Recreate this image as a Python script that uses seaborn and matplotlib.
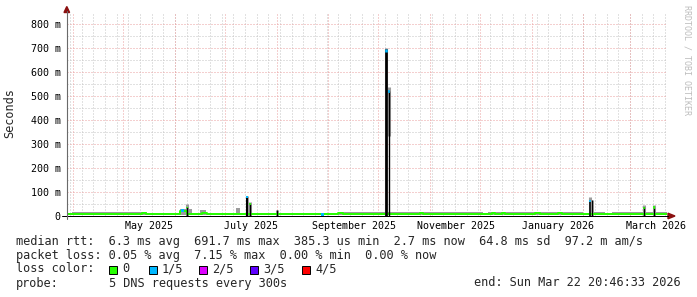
import matplotlib
matplotlib.use("Agg")
import matplotlib.pyplot as plt
import matplotlib.dates as mdates
from matplotlib.lines import Line2D
from matplotlib.patches import Rectangle, Polygon
import numpy as np
import pandas as pd
import seaborn as sns

# ---------------- data ----------------
START = pd.Timestamp("2025-03-27 20:46:33")
END = pd.Timestamp("2026-03-22 20:46:33")

# smoke band top (ms): value holds from each day offset until the next one
smoke_day = [0, 3, 48, 67.8, 75, 80, 83.4, 101.4, 103.8, 139.8, 162.6, 249.6, 252.6, 309.6, 313.2, 322.8, 327]
smoke_ms = [11, 15, 12, 25, 12, 21, 12, 30, 12, 11, 14, 11, 14, 11, 14, 10, 14]

# median rtt (ms), step values
median_day = [0, 45, 47.4, 67.8, 72, 81, 84, 162.6, 165.6, 211.8, 213.6, 255, 257, 261, 263, 281, 284, 294.6, 297]
median_ms = [4.5, 9, 4.5, 20, 4.5, 9, 4.5, 9, 4.5, 9, 4.5, 9, 4.5, 9, 4.5, 9, 4.5, 9, 4.5]

# spikes
spike_day = [72.0, 108.0, 109.8, 126.0, 191.7, 193.4, 314.0, 315.0, 346.6, 352.6]
spike_top_ms = [35, 73, 50, 22, 692, 520, 57, 65, 34, 33]
spike_smoke_lo = [0, 0, 0, 0, 0, 330, 0, 0, 0, 0]
spike_smoke_hi = [46, 83, 55, 22, 700, 535, 77, 65, 43, 43]
spike_cap_lo = [30, 73, 44, 20, 680, 512, 55, 62, 28, 26]
spike_cap_hi = [36, 82, 52, 22, 692, 525, 66, 65, 37, 38]
spike_loss = [0, 1, 0, -1, 1, 1, 1, -1, 0, 0]

# isolated loss dots on the median
dot_day = [69.6, 153.6]
dot_ms = [20, 4.5]
dot_loss = [1, 1]

ytick_vals = [0, 100, 200, 300, 400, 500, 600, 700, 800]
ytick_labels = ["0", "100 m", "200 m", "300 m", "400 m", "500 m", "600 m", "700 m", "800 m"]
month_label_starts = ["2025-05-01", "2025-07-01", "2025-09-01", "2025-11-01", "2026-01-01", "2026-03-01"]
month_labels = ["May 2025", "July 2025", "September 2025", "November 2025", "January 2026", "March 2026"]

loss_labels = ["0", "1/5", "2/5", "3/5", "4/5"]
loss_colors = ["#26ff00", "#00b8ff", "#dd00ff", "#5e00ff", "#ff0000"]

rtt_stats = ["6.3 ms avg", "691.7 ms max", "385.3 us min", "2.7 ms now", "64.8 ms sd", "97.2 m am/s"]
loss_stats = ["0.05 % avg", "7.15 % max", "0.00 % min", "0.00 % now"]
probe_text = "5 DNS requests every 300s"
end_text = "end: Sun Mar 22 20:46:33 2026"
watermark = "RRDTOOL / TOBI OETIKER"
y_title = "Seconds"

# ---------------- drawing ----------------
sns.set_theme(style="white")
MONO = "DejaVu Sans Mono"
plt.rcParams["font.family"] = [MONO, "DejaVu Sans"]

W, H = 697, 297
def fx(x):
    return x / W
def fy(y):
    return 1 - y / H

def to_num(days):
    return mdates.date2num(START + pd.to_timedelta(np.asarray(days, dtype=float), unit="D"))

fig = plt.figure(figsize=(W / 100, H / 100), dpi=100)
fig.patch.set_facecolor("white")
X0, X1, Y0, Y1 = 66.5, 666.5, 215.5, 13.0
ax = fig.add_axes([fx(X0), fy(Y0), (X1 - X0) / W, (Y0 - Y1) / H])
ax.set_facecolor("white")
xmin, xmax = mdates.date2num(START), mdates.date2num(END)
ax.set_xlim(xmin, xmax)
ax.set_ylim(0, (Y0 - Y1) / 0.24)
for s in ax.spines.values():
    s.set_visible(False)

# grid
dash = (0, (1, 2))
for d in pd.date_range("2025-03-23", END, freq="W-SUN"):
    v = mdates.date2num(d)
    if xmin < v < xmax:
        ax.axvline(v, color="#c4c4c4", lw=0.72, ls=dash, zorder=0)
for v in range(50, 850, 100):
    ax.axhline(v, color="#c4c4c4", lw=0.72, ls=dash, zorder=0)
for d in pd.date_range("2025-04-01", END, freq="MS"):
    ax.axvline(mdates.date2num(d), color="#eba0a0", lw=0.72, ls=dash, zorder=0.5)
for v in ytick_vals[1:]:
    ax.axhline(v, color="#eba0a0", lw=0.72, ls=dash, zorder=0.5)

# smoke
sx = np.append(to_num(smoke_day), xmax)
sy = np.append(smoke_ms, smoke_ms[-1])
ax.fill_between(sx, 0, sy, step="post", color="#9c9c9c", lw=0, zorder=1)
sp = to_num(spike_day)
ax.vlines(sp, spike_smoke_lo, spike_smoke_hi, colors="#9c9c9c", linewidth=2.2, zorder=1.5)

# median line
mdf = pd.DataFrame({"t": np.append(to_num(median_day), xmax),
                    "rtt": np.append(median_ms, median_ms[-1])})
sns.lineplot(data=mdf, x="t", y="rtt", ax=ax, color=loss_colors[0], lw=1.4,
             drawstyle="steps-post", estimator=None, zorder=2)

# spikes (black) and loss caps
spike_lw = [1.0, 1.44, 1.0, 0.9, 1.9, 1.0, 1.1, 0.8, 0.9, 0.9]
ax.vlines(sp, 0, spike_top_ms, colors="black", linewidth=spike_lw, zorder=3, capstyle="butt")
for x, lo, hi, l, lw in zip(sp, spike_cap_lo, spike_cap_hi, spike_loss, spike_lw):
    if l >= 0:
        ax.vlines(x, lo, hi, colors=loss_colors[l], linewidth=max(lw, 1.2), zorder=3.5)
ax.scatter(to_num(dot_day), dot_ms, c=[loss_colors[l] for l in dot_loss], s=3, marker="s", lw=0, zorder=3.5)

# ticks
ax.set_yticks(ytick_vals)
ax.set_yticklabels(ytick_labels, fontsize=7.2, family=MONO, color="black")
lab_pos = mdates.date2num(pd.to_datetime(month_label_starts) + pd.Timedelta(days=15.5))
ax.set_xticks(lab_pos)
ax.set_xticklabels(month_labels, fontsize=7.2, family=MONO, color="black")
ax.tick_params(axis="both", length=0)
ax.tick_params(axis="y", pad=4.2)
ax.tick_params(axis="x", pad=4.0)
ax.set_xlabel("")
ax.set_ylabel("")

# axes lines and arrows (figure pixel coordinates)
tr = fig.transFigure
fig.add_artist(Line2D([fx(62), fx(668)], [fy(216.0), fy(216.0)], color="black", lw=0.72, transform=tr))
fig.add_artist(Line2D([fx(66.8), fx(66.8)], [fy(219), fy(11)], color="#6a6a6a", lw=0.8, transform=tr))
fig.add_artist(Polygon([[fx(64), fy(12.5)], [fx(69.6), fy(12.5)], [fx(66.8), fy(6.5)]],
                       closed=True, color="#8b1010", transform=tr))
fig.add_artist(Polygon([[fx(668), fy(213.2)], [fx(668), fy(218.8)], [fx(675), fy(216.0)]],
                       closed=True, color="#8b1010", transform=tr))

# titles
fig.text(fx(10), fy(113), y_title, rotation=90, ha="center", va="center", fontsize=8.6, family=MONO)
fig.text(fx(687), fy(5), watermark, rotation=270, ha="center", va="top", fontsize=6.0,
         family=MONO, color="#bdbdbd")

# legend block
LX = 16
FS = 8.6
fig.text(fx(LX), fy(241), "median rtt:  " + "  ".join(rtt_stats), fontsize=FS, family=MONO, va="center")
fig.text(fx(LX), fy(255), "packet loss: " + "  ".join(loss_stats), fontsize=FS, family=MONO, va="center")
fig.text(fx(LX), fy(269), "loss color:", fontsize=FS, family=MONO, va="center")
box_x = [109, 149, 199, 250, 302]
for bx, lab, col in zip(box_x, loss_labels, loss_colors):
    fig.add_artist(Rectangle((fx(bx), fy(273.5)), 8 / W, 8 / H, facecolor=col, edgecolor="black",
                             lw=0.7, transform=tr))
    fig.text(fx(bx + 13), fy(269), lab, fontsize=FS, family=MONO, va="center")
fig.text(fx(LX), fy(283), "probe:", fontsize=FS, family=MONO, va="center")
fig.text(fx(109), fy(283), probe_text, fontsize=FS, family=MONO, va="center")
fig.text(fx(681), fy(283), end_text, fontsize=FS, family=MONO, va="center", ha="right")

fig.savefig("out.png", dpi=100, facecolor="white")
